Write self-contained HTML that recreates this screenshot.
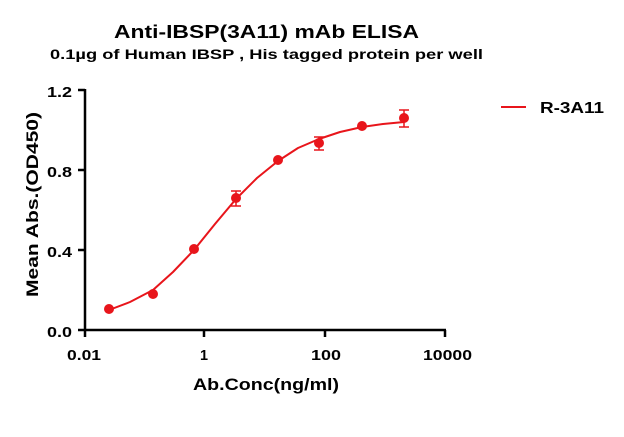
<!DOCTYPE html>
<html><head><style>body{margin:0;background:#fff}svg{display:block}text{font-family:"Liberation Sans",Arial,sans-serif;font-weight:bold;fill:#000}</style></head>
<body>
<svg width="624" height="437" viewBox="0 0 624 437">
<text x="114" y="38" font-size="18" textLength="305" lengthAdjust="spacingAndGlyphs">Anti-IBSP(3A11) mAb ELISA</text>
<text x="50" y="59" font-size="14" textLength="433" lengthAdjust="spacingAndGlyphs">0.1µg of Human IBSP , His tagged protein per well</text>
<g stroke="#000" stroke-width="2.5" fill="none">
<path d="M85 89V331M84 330H446"/>
<path d="M78 90H85M78 170H85M78 250H85M78 330H85"/>
<path d="M85 330V337M204 330V337M325 330V337M445 330V337"/>
</g>
<g font-size="15">
<text x="47" y="97" textLength="25" lengthAdjust="spacingAndGlyphs">1.2</text>
<text x="47" y="177" textLength="25" lengthAdjust="spacingAndGlyphs">0.8</text>
<text x="47" y="257" textLength="25" lengthAdjust="spacingAndGlyphs">0.4</text>
<text x="47" y="337" textLength="25" lengthAdjust="spacingAndGlyphs">0.0</text>
</g>
<g font-size="15">
<text x="67" y="360" textLength="34" lengthAdjust="spacingAndGlyphs">0.01</text>
<text x="200" y="360" textLength="8" lengthAdjust="spacingAndGlyphs">1</text>
<text x="311" y="360" textLength="30" lengthAdjust="spacingAndGlyphs">100</text>
<text x="423" y="360" textLength="49" lengthAdjust="spacingAndGlyphs">10000</text>
</g>
<text x="193" y="390" font-size="17" textLength="146" lengthAdjust="spacingAndGlyphs">Ab.Conc(ng/ml)</text>
<text transform="translate(38,297) rotate(-90)" font-size="17" textLength="185" lengthAdjust="spacingAndGlyphs">Mean Abs.(OD450)</text>
<polyline fill="none" stroke="#e8151b" stroke-width="2" stroke-linejoin="round" points="109,310 130,302 153,290 173,272 194,250 215,224 236,199 257,178 278,161 298,148 319,139 340,132 362,127 383,124 404,122"/>
<g stroke="#e8151b" stroke-width="1.5">
<path d="M236 191V206M231 191H241M231 206H241"/>
<path d="M319 137V150M314 137H324M314 150H324"/>
<path d="M404 110V127M399 110H409M399 127H409"/>
</g>
<g fill="#e8151b">
<circle cx="109" cy="309" r="5"/><circle cx="153" cy="294" r="5"/><circle cx="194" cy="249" r="5"/><circle cx="236" cy="198" r="5"/><circle cx="278" cy="160" r="5"/><circle cx="319" cy="143" r="5"/><circle cx="362" cy="126" r="5"/><circle cx="404" cy="118" r="5"/>
</g>
<path d="M501 107H526" stroke="#e8151b" stroke-width="2"/>
<text x="540" y="113" font-size="16" textLength="64" lengthAdjust="spacingAndGlyphs">R-3A11</text>
</svg>
</body></html>
